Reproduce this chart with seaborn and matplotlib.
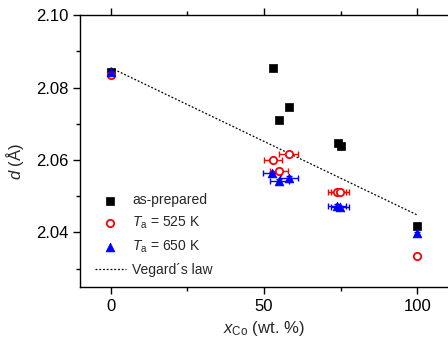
import matplotlib
matplotlib.use("Agg")
import matplotlib.pyplot as plt
import numpy as np
import pandas as pd
import seaborn as sns
from matplotlib.ticker import MultipleLocator

sns.set_style("ticks")
plt.rcParams['font.family'] = ['Liberation Sans', 'DejaVu Sans']
plt.rcParams['mathtext.fontset'] = 'custom'
plt.rcParams['mathtext.it'] = 'Liberation Sans:italic'
plt.rcParams['mathtext.rm'] = 'Liberation Sans'

# as-prepared
x_ap = [0, 52.9, 55.0, 58.1, 74.1, 75.0, 100]
d_ap = [2.0844, 2.0853, 2.0712, 2.0747, 2.0646, 2.0640, 2.0417]
yerr_ap = [0.0005] * 7

# Ta = 525 K
x_525 = [0, 52.9, 54.9, 58.0, 73.8, 74.7, 100]
d_525 = [2.0835, 2.0600, 2.0570, 2.0616, 2.0512, 2.0511, 2.0334]
xerr_525 = [0, 3, 3, 3, 3, 3, 0]
yerr_525 = [0.0005] * 7

# Ta = 650 K
x_650 = [0, 52.7, 55.0, 58.1, 73.8, 74.7, 100]
d_650 = [2.0842, 2.0563, 2.0542, 2.0551, 2.0473, 2.0469, 2.0397]
xerr_650 = [0, 3, 3, 3, 3, 3, 0]
yerr_650 = [0.0005] * 7

# Vegard's law
x_veg = [0, 100]
d_veg = [2.0855, 2.0448]

fig = plt.figure(figsize=(4.48, 3.45), dpi=100)
ax = fig.add_axes([0.1786, 0.169, 0.8214, 0.7867])

ax.errorbar(x_ap, d_ap, yerr=yerr_ap, fmt='none', ecolor='black', elinewidth=1, capsize=2, zorder=2)
ax.errorbar(x_525, d_525, xerr=xerr_525, yerr=yerr_525, fmt='none', ecolor='red', elinewidth=1, capsize=2.5, zorder=2)
ax.errorbar(x_650, d_650, xerr=xerr_650, yerr=yerr_650, fmt='none', ecolor='blue', elinewidth=1, capsize=2.5, zorder=2)

sns.lineplot(x=x_veg, y=d_veg, ax=ax, color='black', linestyle=(0, (1.5, 1.5)), linewidth=0.9,
             label="Vegard\u00b4s law", zorder=1)
sns.scatterplot(x=x_ap, y=d_ap, ax=ax, marker='s', color='black', s=30, edgecolor='black', linewidth=0.5,
                label='as-prepared', zorder=3)
sns.scatterplot(x=x_525, y=d_525, ax=ax, marker='o', facecolor='white', edgecolor='red', s=28, linewidth=1.3,
                label='$T_{\\rm a}$ = 525 K', zorder=3)
sns.scatterplot(x=x_650, y=d_650, ax=ax, marker='^', color='blue', s=40, edgecolor='blue', linewidth=0.5,
                label='$T_{\\rm a}$ = 650 K', zorder=3)

ax.set_xlim(-10, 110)
ax.set_ylim(2.025, 2.10)
ax.xaxis.set_major_locator(MultipleLocator(50))
ax.xaxis.set_minor_locator(MultipleLocator(25))
ax.yaxis.set_major_locator(MultipleLocator(0.02))
ax.yaxis.set_minor_locator(MultipleLocator(0.01))
ax.yaxis.set_major_formatter(matplotlib.ticker.FormatStrFormatter('%.2f'))
ax.tick_params(which='both', direction='out', top=True, right=False, labelsize=12, width=1, colors='black')
ax.tick_params(which='major', length=5)
ax.tick_params(which='minor', length=3)
for s in ['left', 'bottom', 'top']:
    ax.spines[s].set_linewidth(1)
    ax.spines[s].set_color('black')
ax.spines['right'].set_visible(False)

ax.set_xlabel('$x_{\\rm Co}$ (wt. %)', fontsize=12, labelpad=4)
ax.set_ylabel('$d$ (\u00c5)', fontsize=12)
ax.yaxis.set_label_coords(-0.147, 0.46)

h, l = ax.get_legend_handles_labels()
order = [1, 2, 3, 0]
ax.legend([h[i] for i in order], [l[i] for i in order], loc='lower left', frameon=False, fontsize=10,
          handlelength=2.3, handletextpad=0.4, labelspacing=0.55, borderaxespad=0.3,
          bbox_to_anchor=(0.013, 0.0))

fig.savefig('out.png', dpi=100)
